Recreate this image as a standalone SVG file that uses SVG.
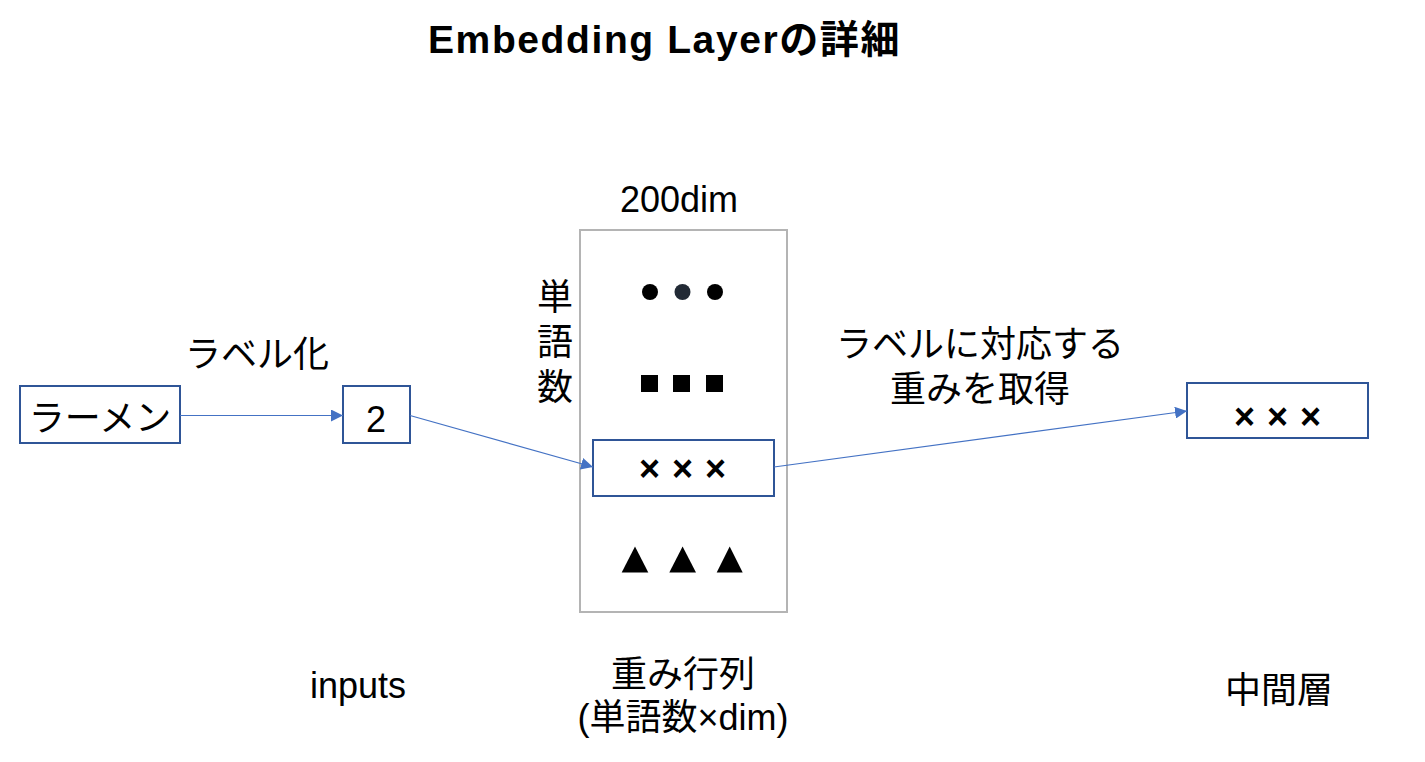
<svg xmlns="http://www.w3.org/2000/svg" width="1425" height="762" viewBox="0 0 1425 762">
<style>
text{font-family:"Liberation Sans","Noto Sans CJK JP",sans-serif;fill:#000;}
.t{font-size:36px;text-anchor:middle;}
.title{font-size:39px;font-weight:bold;letter-spacing:1.6px;}
.x{font-size:36px;font-weight:bold;letter-spacing:1px;text-anchor:middle;}
.box{fill:#fff;stroke:#2f5597;stroke-width:2;}
.mat{fill:#fff;stroke:#b4b4b4;stroke-width:2;}
.conn{stroke:#4472c4;stroke-width:1.2;fill:none;marker-end:url(#arr);}
</style>
<defs>
<marker id="arr" viewBox="0 0 12 12" refX="12" refY="6" markerWidth="12" markerHeight="12" markerUnits="userSpaceOnUse" orient="auto">
<path d="M0,0 L12,6 L0,12 Z" fill="#4472c4"/>
</marker>
</defs>
<rect width="1425" height="762" fill="#fff"/>
<text id="title" class="title" x="428" y="53">Embedding Layerの詳細</text>

<g id="matrix">
<rect class="mat" x="580" y="230" width="207" height="382"/>
<text class="t" x="679" y="212">200dim</text>
<text class="t" x="555" y="310">単</text>
<text class="t" x="555" y="355">語</text>
<text class="t" x="555" y="400">数</text>
<circle cx="650" cy="292" r="8"/>
<circle cx="682.5" cy="292" r="8" fill="#222a35"/>
<circle cx="715" cy="292" r="8"/>
<rect x="641" y="375" width="17" height="17"/>
<rect x="673" y="375" width="17" height="17"/>
<rect x="706" y="375" width="17" height="17"/>
<path d="M635,546.5 L648.3,572.5 L621.7,572.5 Z"/>
<path d="M682.6,546.5 L696,572.5 L669.3,572.5 Z"/>
<path d="M729.7,546.5 L742.7,572.5 L716.7,572.5 Z"/>
<text class="t" x="683" y="687">重み行列</text>
<text class="t" x="683" y="730">(単語数×dim)</text>
</g>

<g id="row">
<rect class="box" x="593" y="440" width="181" height="56"/>
<text class="x" x="683" y="481">× × ×</text>
</g>

<g id="ramen">
<rect class="box" x="20" y="386" width="160" height="57"/>
<text class="t" x="100" y="431">ラーメン</text>
</g>

<g id="label">
<rect class="box" x="343" y="386" width="67" height="57"/>
<text class="t" x="376" y="432">2</text>
<text class="t" x="358" y="698">inputs</text>
</g>

<g id="hidden">
<rect class="box" x="1187" y="383" width="181" height="55"/>
<text class="x" x="1278" y="429">× × ×</text>
<text class="t" x="1279" y="703">中間層</text>
</g>

<g id="connectors">
<path class="conn" d="M180,415.5 L343,415.5"/>
<path class="conn" d="M410,415.5 L593,467"/>
<path class="conn" d="M774,467 L1187,411"/>
<text class="t" x="257" y="367">ラベル化</text>
<text class="t" x="980" y="357">ラベルに対応する</text>
<text class="t" x="980" y="402">重みを取得</text>
</g>
</svg>
